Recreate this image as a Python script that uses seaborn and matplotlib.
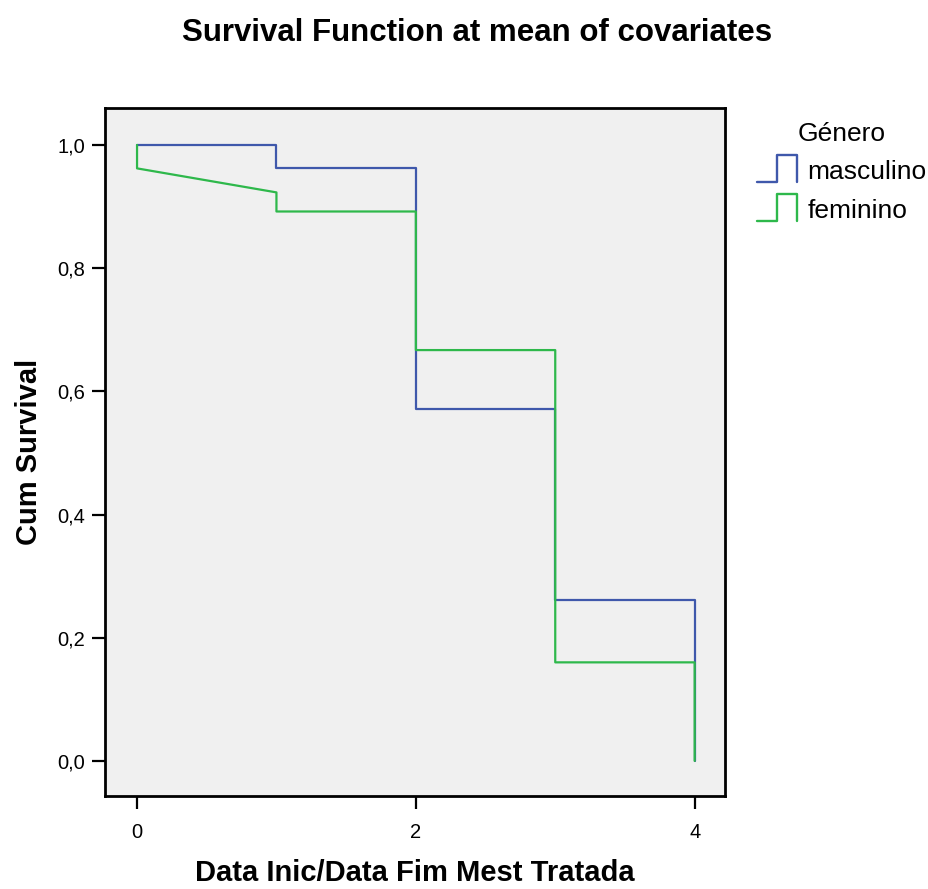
import numpy as np
import pandas as pd
import matplotlib
matplotlib.use("Agg")
import matplotlib.pyplot as plt
import seaborn as sns
from matplotlib.legend_handler import HandlerLine2D
from matplotlib.lines import Line2D

# survival steps
masc_t = [0, 1, 1, 2, 2, 3, 3, 4, 4]
masc_s = [1.0, 1.0, 0.963, 0.963, 0.572, 0.572, 0.262, 0.262, 0.0]
fem_t = [0, 0, 1, 1, 2, 2, 3, 3, 4, 4]
fem_s = [1.0, 0.962, 0.923, 0.892, 0.892, 0.667, 0.667, 0.160, 0.160, 0.0]

groups = ["masculino", "feminino"]
colors = {"masculino": "#3f58ab", "feminino": "#2eb84b"}

df = pd.concat([
    pd.DataFrame({"t": masc_t, "s": masc_s, "Género": "masculino"}),
    pd.DataFrame({"t": fem_t, "s": fem_s, "Género": "feminino"}),
])


class StepHandler(HandlerLine2D):
    """draws the little step glyph used in SPSS legends"""
    def create_artists(self, legend, orig_handle, xdescent, ydescent,
                       width, height, fontsize, trans):
        x0, x1 = -xdescent, -xdescent + width
        y0, y1 = -ydescent - height * 0.15, -ydescent + height * 1.3
        xm = x0 + width * 0.5
        xs = [x0, xm, xm, x1, x1]
        ys = [y0, y0, y1, y1, y0]
        line = Line2D(xs, ys, color=orig_handle.get_color(), lw=1.7)
        line.set_transform(trans)
        return [line]


sns.set_style("ticks")
plt.rcParams["font.family"] = ["Liberation Sans", "DejaVu Sans"]
plt.rcParams["text.color"] = "black"
plt.rcParams["axes.labelcolor"] = "black"
plt.rcParams["xtick.color"] = "black"
plt.rcParams["ytick.color"] = "black"

fig = plt.figure(figsize=(9.29, 8.89), dpi=100)
ax = fig.add_axes([0.113, 0.1046, 0.667, 0.7739])
ax.set_facecolor("#f0f0f0")

for g in groups:
    sub = df[df["Género"] == g]
    sns.lineplot(x=sub["t"].values, y=sub["s"].values, sort=False,
                 estimator=None, color=colors[g], lw=1.6, ax=ax)

ax.set_xlim(-0.23, 4.215)
ax.set_ylim(-0.057, 1.06)
ax.set_xticks([0, 2, 4])
ax.set_yticks([0, 0.2, 0.4, 0.6, 0.8, 1.0])
ax.set_yticklabels(["0,0", "0,2", "0,4", "0,6", "0,8", "1,0"])
ax.tick_params(axis="both", direction="out", length=9.5, width=1.6,
               labelsize=14.5, pad=5)
ax.tick_params(axis="x", pad=10)
for sp in ax.spines.values():
    sp.set_visible(True)
    sp.set_color("black")
    sp.set_linewidth(2)

ax.set_xlabel("Data Inic/Data Fim Mest Tratada", fontsize=21,
              fontweight="bold", labelpad=12)
ax.set_ylabel("Cum Survival", fontsize=21, fontweight="bold", labelpad=10)
fig.text(0.513, 0.963, "Survival Function at mean of covariates",
         fontsize=22.5, fontweight="bold", ha="center", va="center")

handles = [Line2D([], [], color=colors[g]) for g in groups]
leg = fig.legend(handles, groups, title="Género", loc="upper left",
                 bbox_to_anchor=(0.815, 0.863), frameon=False, fontsize=19,
                 title_fontsize=19, handler_map={Line2D: StepHandler()},
                 handlelength=1.5, handletextpad=0.4, labelspacing=0.55,
                 borderaxespad=0, borderpad=0)

fig.savefig("out.png", dpi=100)
